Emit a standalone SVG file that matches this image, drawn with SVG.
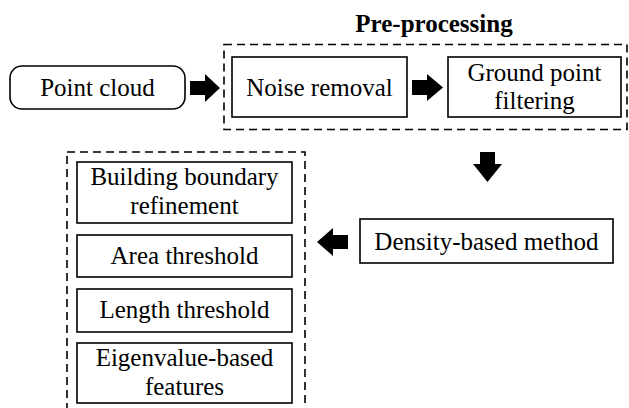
<svg xmlns="http://www.w3.org/2000/svg" width="629" height="408" viewBox="0 0 629 408">
<style>
.box{fill:#fff;stroke:#000;stroke-width:1.6}
.dash{fill:none;stroke:#000;stroke-width:1.6;stroke-dasharray:8 5}
.t{font-size:25px;fill:#000;text-anchor:middle}
.b{font-weight:bold}
.arr{fill:#000}
</style>
<rect width="629" height="408" fill="#fff"/>
<g id="preprocessing">
<rect class="dash" x="224" y="44.5" width="403" height="85"/>
<text class="t b" font-family="Liberation Serif" x="434" y="32">Pre-processing</text>
</g>
<g id="postprocessing">
<rect class="dash" x="67" y="152" width="238" height="262"/>
</g>
<g id="point-cloud">
<rect class="box" x="10" y="66" width="175" height="43" rx="12"/>
<text class="t" font-family="Liberation Serif" x="97.5" y="96">Point cloud</text>
</g>
<g id="noise-removal">
<rect class="box" x="232" y="57" width="175" height="60"/>
<text class="t" font-family="Liberation Serif" x="319.5" y="96">Noise removal</text>
</g>
<g id="ground-filtering">
<rect class="box" x="448" y="57" width="173" height="60"/>
<text class="t" font-family="Liberation Serif" x="534.5" y="81">Ground point</text>
<text class="t" font-family="Liberation Serif" x="534.5" y="109">filtering</text>
</g>
<g id="density">
<rect class="box" x="360" y="219" width="253" height="44"/>
<text class="t" font-family="Liberation Serif" x="486.5" y="250">Density-based method</text>
</g>
<g id="boundary-refinement">
<rect class="box" x="77" y="162" width="215" height="61"/>
<text class="t" font-family="Liberation Serif" x="184.5" y="185">Building boundary</text>
<text class="t" font-family="Liberation Serif" x="184.5" y="214">refinement</text>
</g>
<g id="area-threshold">
<rect class="box" x="77" y="235" width="215" height="42"/>
<text class="t" font-family="Liberation Serif" x="184.5" y="264">Area threshold</text>
</g>
<g id="length-threshold">
<rect class="box" x="77" y="289" width="215" height="43"/>
<text class="t" font-family="Liberation Serif" x="184.5" y="318">Length threshold</text>
</g>
<g id="eigenvalue">
<rect class="box" x="77" y="343" width="215" height="60"/>
<text class="t" font-family="Liberation Serif" x="184.5" y="366">Eigenvalue-based</text>
<text class="t" font-family="Liberation Serif" x="184.5" y="395">features</text>
</g>
<g id="connectors">
<polygon class="arr" points="190,81 205,81 205,74 220,88 205,102 205,95 190,95"/>
<polygon class="arr" points="412,80 427,80 427,74 443,87.5 427,101 427,95 412,95"/>
<polygon class="arr" points="480,152 495,152 495,164 502,164 487.5,182 473,164 480,164"/>
<polygon class="arr" points="348,235 333,235 333,228 317,242 333,256 333,249 348,249"/>
</g>
</svg>
